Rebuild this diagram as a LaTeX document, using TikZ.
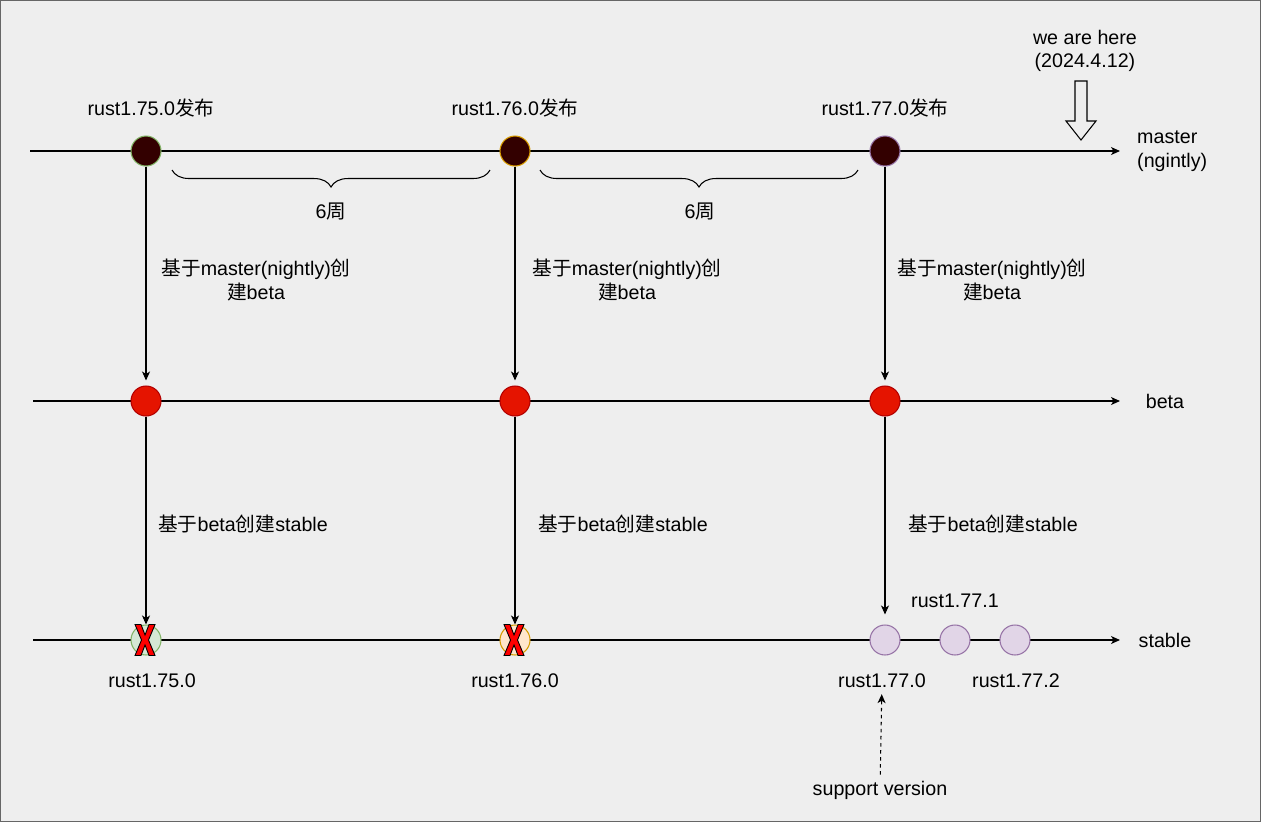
\documentclass[tikz,border=0pt]{standalone}
\usepackage{fontspec}
\setmainfont{Liberation Sans}
\newfontfamily\cjk{Noto Sans CJK SC}
\usetikzlibrary{arrows.meta,decorations.pathreplacing}

\begin{document}
\begin{tikzpicture}[x=0.02cm, y=-0.02cm, font=\fontsize{11.2}{13.4}\selectfont]
    \definecolor{bg_gray}{HTML}{EEEEEE}
    \definecolor{dark_red}{HTML}{330000}
    \definecolor{tab_red}{HTML}{E51400}
    \definecolor{red_line}{HTML}{B20000}
    \definecolor{green_line}{HTML}{82B366}
    \definecolor{green_fill}{HTML}{D5E8D4}
    \definecolor{orange_line}{HTML}{D79B00}
    \definecolor{orange_fill}{HTML}{FFE6CC}
    \definecolor{purple_line}{HTML}{9673A6}
    \definecolor{purple_fill}{HTML}{E1D5E7}
    \tikzset{
        dot/.style={circle, minimum size=0.6cm, inner sep=0pt, line width=0.6pt},
        flow/.style={-{Stealth[length=1.8mm, width=1.6mm, inset=0.5mm]}, line width=0.6pt},
        weeks/.style={decorate, decoration={brace, mirror, amplitude=0.34cm}, line width=0.6pt},
        xmark/.pic={
            \filldraw[fill=red, draw=black, line width=0.5pt]
                (-10,-15.5) -- (-4,-15.5) -- (0,-5) -- (4,-15.5) -- (10,-15.5) -- (3.5,0)
                -- (10,15.5) -- (4,15.5) -- (0,5) -- (-4,15.5) -- (-10,15.5) -- (-3.5,0) -- cycle;
        },
    }
    %\draw[help lines, step=50] (0,0) grid (1261,822);

    \fill[bg_gray] (0,0) rectangle (1261,822);
    \draw[black!60, line width=0.6pt] (0.5,0.5) rectangle (1260.5,821.5);
    \useasboundingbox (0,0) rectangle (1261,822);

    \coordinate (m_start) at (30,151);
    \coordinate (m_end) at (1120,151);
    \coordinate (b_start) at (33,401);
    \coordinate (b_end) at (1120,401);
    \coordinate (s_start) at (33,640);
    \coordinate (s_end) at (1120,640);
    \draw[flow] (m_start) -- (m_end);
    \draw[flow] (b_start) -- (b_end);
    \draw[flow] (s_start) -- (s_end);

    \node[dot, fill=dark_red, draw=green_line] (m1) at (146,151) {};
    \node[dot, fill=dark_red, draw=orange_line] (m2) at (515,151) {};
    \node[dot, fill=dark_red, draw=purple_line] (m3) at (885,151) {};

    \node[dot, fill=tab_red, draw=red_line] (b1) at (146,401) {};
    \node[dot, fill=tab_red, draw=red_line] (b2) at (515,401) {};
    \node[dot, fill=tab_red, draw=red_line] (b3) at (885,401) {};

    \node[dot, fill=green_fill, draw=green_line] (s1) at (146,640) {};
    \node[dot, fill=orange_fill, draw=orange_line] (s2) at (515,640) {};
    \node[dot, fill=purple_fill, draw=purple_line] (s3) at (885,640) {};
    \node[dot, fill=purple_fill, draw=purple_line] (s4) at (955,640) {};
    \node[dot, fill=purple_fill, draw=purple_line] (s5) at (1015,640) {};

    \draw[flow, shorten >=0.1cm] (m1) -- (b1);
    \draw[flow, shorten >=0.1cm] (m2) -- (b2);
    \draw[flow, shorten >=0.1cm] (m3) -- (b3);
    \draw[flow] (b1) -- (s1);
    \draw[flow] (b2) -- (s2);
    \draw[flow, shorten >=0.2cm] (b3) -- (s3);

    \pic at (145,640) {xmark};
    \pic at (514,640) {xmark};

    \node (rel1) at (151,108) {rust1.75.0{\cjk 发布}};
    \node (rel2) at (515,108) {rust1.76.0{\cjk 发布}};
    \node (rel3) at (885,108) {rust1.77.0{\cjk 发布}};

    \draw[weeks] (172,170) -- (490,170);
    \draw[weeks] (540,170) -- (858,170);
    \node (gap1) at (331,212) {6{\cjk 周}};
    \node (gap2) at (700,212) {6{\cjk 周}};

    \node[align=center] (beta1) at (256,280) {{\cjk 基于}master(nightly){\cjk 创}\\{\cjk 建}beta};
    \node[align=center] (beta2) at (627,280) {{\cjk 基于}master(nightly){\cjk 创}\\{\cjk 建}beta};
    \node[align=center] (beta3) at (992,280) {{\cjk 基于}master(nightly){\cjk 创}\\{\cjk 建}beta};

    \node (stab1) at (243,524) {{\cjk 基于}beta{\cjk 创建}stable};
    \node (stab2) at (623,524) {{\cjk 基于}beta{\cjk 创建}stable};
    \node (stab3) at (993,524) {{\cjk 基于}beta{\cjk 创建}stable};

    \node (v1750) at (152,681) {rust1.75.0};
    \node (v1760) at (515,681) {rust1.76.0};
    \node (v1770) at (882,681) {rust1.77.0};
    \node (v1771) at (955,601) {rust1.77.1};
    \node (v1772) at (1016,681) {rust1.77.2};

    \node[anchor=west, align=left] (master) at (1131,151) {master\\(ngintly)};
    \node (beta) at (1165,401) {beta};
    \node (stable) at (1165,640) {stable};

    \node[align=center] (here) at (1085,51) {we are here\\(2024.4.12)};
    \draw[line width=0.6pt] (1075,81) -- (1087,81) -- (1087,121) -- (1096,121)
        -- (1081,140) -- (1066,121) -- (1075,121) -- cycle;

    \node (support) at (880,790) {support version};
    \draw[flow, dashed, dash pattern=on 2pt off 2pt] (support) -- (v1770);
\end{tikzpicture}
\end{document}
